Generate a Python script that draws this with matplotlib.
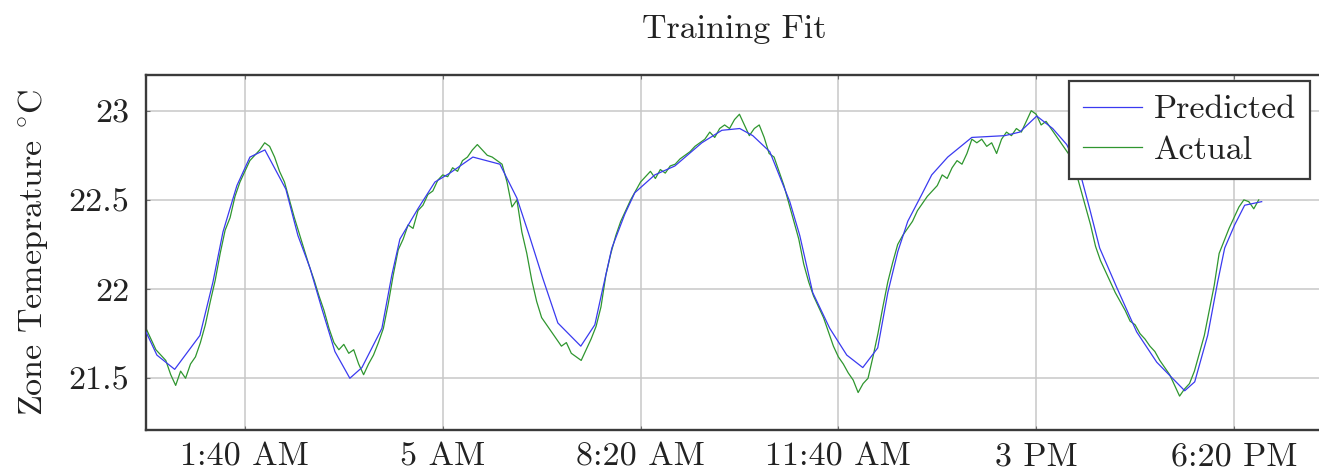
import numpy as np
import matplotlib
matplotlib.use("Agg")
import matplotlib.pyplot as plt

# ---------------- data ----------------
title = "Training Fit"
ylabel = "Zone Temeprature $^{\\circ}$C"

tick_minutes = [100, 300, 500, 700, 900, 1100]
tick_labels = ["1:40 AM", "5 AM", "8:20 AM", "11:40 AM", "3 PM", "6:20 PM"]
ytick_values = [21.5, 22.0, 22.5, 23.0]
ytick_labels = ["21.5", "22", "22.5", "23"]

# Predicted (model) series: minutes after midnight, temperature
pred_minutes = [0, 11, 29, 54.5, 67.7, 77.8, 91.9, 105.1, 120.2, 141.4, 153.6, 165.7,
                177.8, 191.0, 206.1, 218.3, 238.5, 248.6, 256.7, 274.9, 292.1, 307.2,
                330.5, 357.8, 375.0, 388.1, 401.2, 416.4, 439.6, 453.8, 460.9, 471.0,
                484.1, 494.2, 514.4, 534.7, 562.0, 582.2, 600.3, 613.5, 630.7, 650.9,
                661.0, 674.1, 691.3, 708.5, 724.7, 739.8, 750.0, 760.1, 770.2, 784.3,
                794.4, 810.6, 834.9, 868.2, 883.4, 900.6, 916.7, 930.9, 944.0, 954.1,
                964.2, 981.4, 1001.6, 1021.9, 1050.2, 1060.3, 1073.4, 1083.5, 1090.6,
                1100.7, 1110.8, 1128.0]
pred_temp = [21.76, 21.63, 21.55, 21.74, 22.04, 22.32, 22.58, 22.74, 22.78, 22.56, 22.30, 22.12,
             21.89, 21.65, 21.50, 21.56, 21.78, 22.08, 22.28, 22.45, 22.60, 22.65,
             22.74, 22.70, 22.51, 22.29, 22.06, 21.81, 21.68, 21.80, 21.98, 22.23,
             22.42, 22.54, 22.64, 22.69, 22.82, 22.89, 22.90, 22.86, 22.77, 22.49,
             22.30, 21.98, 21.78, 21.63, 21.56, 21.67, 21.98, 22.21, 22.38, 22.53,
             22.64, 22.74, 22.85, 22.86, 22.88, 22.97, 22.90, 22.81, 22.66, 22.45,
             22.23, 22.01, 21.76, 21.59, 21.43, 21.48, 21.74, 22.04, 22.23,
             22.36, 22.47, 22.49]

# Actual (measured) series, one reading every 5 minutes from midnight
actual_step = 5
actual_temp = [
    21.78, 21.72, 21.66, 21.63, 21.60, 21.52, 21.46, 21.54, 21.50, 21.58,
    21.62, 21.70, 21.80, 21.93, 22.05, 22.20, 22.33, 22.40, 22.52, 22.60,
    22.66, 22.72, 22.75, 22.78, 22.82, 22.80, 22.74, 22.66, 22.60, 22.50,
    22.40, 22.31, 22.22, 22.13, 22.05, 21.96, 21.88, 21.78, 21.70, 21.66,
    21.69, 21.64, 21.66, 21.58, 21.52, 21.58, 21.63, 21.70, 21.78, 21.92,
    22.08, 22.22, 22.28, 22.36, 22.34, 22.44, 22.47, 22.53, 22.55, 22.61,
    22.64, 22.63, 22.68, 22.66, 22.72, 22.74, 22.78, 22.81, 22.78, 22.75,
    22.74, 22.72, 22.70, 22.60, 22.46, 22.50, 22.32, 22.20, 22.05, 21.93,
    21.84, 21.80, 21.76, 21.72, 21.68, 21.70, 21.64, 21.62, 21.60, 21.66,
    21.72, 21.79, 21.90, 22.08, 22.20, 22.30, 22.38, 22.44, 22.50, 22.55,
    22.60, 22.63, 22.66, 22.62, 22.67, 22.65, 22.69, 22.70, 22.73, 22.75,
    22.77, 22.80, 22.82, 22.84, 22.88, 22.85, 22.90, 22.92, 22.90, 22.95,
    22.98, 22.92, 22.86, 22.90, 22.92, 22.85, 22.76, 22.74, 22.66, 22.58,
    22.48, 22.38, 22.28, 22.14, 22.04, 21.96, 21.90, 21.84, 21.76, 21.68,
    21.62, 21.58, 21.53, 21.49, 21.42, 21.47, 21.50, 21.62, 21.75, 21.90,
    22.04, 22.15, 22.25, 22.30, 22.34, 22.38, 22.44, 22.48, 22.52, 22.55,
    22.58, 22.64, 22.62, 22.68, 22.72, 22.70, 22.76, 22.84, 22.82, 22.84,
    22.80, 22.82, 22.76, 22.84, 22.88, 22.86, 22.90, 22.88, 22.94, 23.00,
    22.98, 22.92, 22.94, 22.90, 22.86, 22.82, 22.78, 22.74, 22.66, 22.56,
    22.46, 22.36, 22.24, 22.16, 22.10, 22.04, 21.98, 21.93, 21.88, 21.82,
    21.80, 21.75, 21.72, 21.68, 21.65, 21.60, 21.56, 21.52, 21.46, 21.40,
    21.44, 21.47, 21.54, 21.64, 21.74, 21.88, 22.02, 22.20, 22.27, 22.34,
    22.40, 22.46, 22.50, 22.49, 22.45, 22.50,
]
actual_minutes = np.arange(len(actual_temp)) * actual_step

# ---------------- style ----------------
plt.rcParams['font.family'] = 'serif'
plt.rcParams['font.serif'] = ['cmr10', 'DejaVu Serif']
plt.rcParams['mathtext.fontset'] = 'cm'
plt.rcParams['axes.formatter.use_mathtext'] = True

FS = 24.5
W, H = 1319, 475
fig = plt.figure(figsize=(W / 100, H / 100), dpi=100)
ax = fig.add_axes([146 / W, 45 / H, (1323 - 146) / W, 355 / H])

ax.plot(pred_minutes, pred_temp, color='#3a3af0', lw=0.9, label='Predicted', zorder=3)
ax.plot(actual_minutes, actual_temp, color='#2f962f', lw=0.9, label='Actual', zorder=2)

ax.set_xlim(0, 1190)
ax.set_ylim(21.21, 23.2)
ax.set_xticks(tick_minutes)
ax.set_xticklabels(tick_labels)
ax.set_yticks(ytick_values)
ax.set_yticklabels(ytick_labels)

ax.grid(True, color='#c8c8c8', lw=1.1)
ax.set_axisbelow(True)
for s in ax.spines.values():
    s.set_color('#3a3a3a')
    s.set_linewidth(1.7)
ax.tick_params(axis='both', direction='in', length=3, width=0.8, color='#707070',
               labelsize=FS, labelcolor='#222222', top=True, right=True)
ax.tick_params(axis='x', pad=9)
ax.tick_params(axis='y', pad=12)

ax.set_title(title, fontsize=FS, color='#222222', pad=27)
ax.set_ylabel(ylabel, fontsize=FS, color='#222222', labelpad=13)

leg = ax.legend(loc='upper right', bbox_to_anchor=((1310 - 146) / 1177, (430 - 81) / 355),
                fontsize=FS, frameon=True, fancybox=False, framealpha=1,
                edgecolor='#3a3a3a', handlelength=1.75, handletextpad=0.35,
                labelspacing=0.32, borderpad=0.4, borderaxespad=0)
leg.get_frame().set_linewidth(1.6)
for t in leg.get_texts():
    t.set_color('#222222')

fig.savefig('out.png', dpi=100)
